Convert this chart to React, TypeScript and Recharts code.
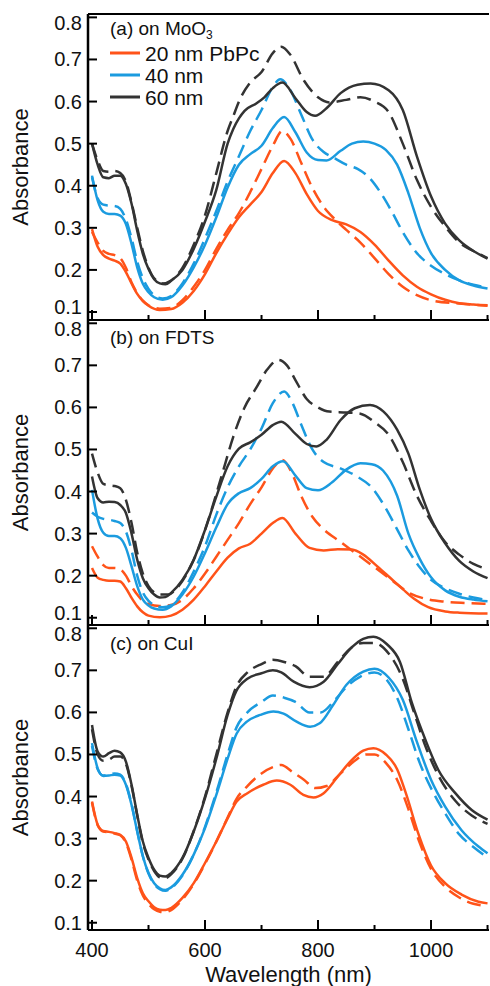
import React from 'react';
import { LineChart, Line, XAxis, YAxis } from 'recharts';

type Pt = [number, number];

// ---------- data (wavelength nm, absorbance) ----------
// (a) on MoO3
const A_20_SOLID: Pt[] = [[400,0.297],[410,0.255],[420,0.235],[430,0.227],[440,0.222],[450,0.215],[460,0.195],[470,0.168],[480,0.143],[490,0.126],[500,0.115],[520,0.105],[540,0.107],[560,0.122],[580,0.15],[600,0.19],[620,0.24],[640,0.285],[660,0.325],[680,0.355],[700,0.385],[720,0.43],[740,0.459],[760,0.43],[780,0.38],[800,0.34],[825,0.318],[850,0.308],[875,0.29],[900,0.26],[925,0.222],[950,0.187],[975,0.16],[1000,0.142],[1025,0.129],[1050,0.121],[1075,0.118],[1100,0.116]];
const A_20_DASH: Pt[] = [[400,0.29],[410,0.265],[420,0.245],[430,0.238],[440,0.235],[450,0.228],[460,0.205],[470,0.17],[480,0.145],[490,0.127],[500,0.116],[520,0.108],[540,0.11],[560,0.128],[580,0.16],[600,0.2],[620,0.25],[640,0.295],[660,0.335],[680,0.385],[700,0.44],[720,0.495],[737,0.53],[752,0.51],[770,0.455],[790,0.395],[810,0.35],[830,0.32],[850,0.295],[875,0.265],[900,0.228],[925,0.19],[950,0.16],[975,0.14],[1000,0.128],[1050,0.12],[1100,0.115]];
const A_40_SOLID: Pt[] = [[400,0.424],[410,0.365],[420,0.338],[430,0.333],[440,0.333],[450,0.329],[460,0.309],[470,0.262],[480,0.206],[490,0.167],[500,0.147],[510,0.135],[525,0.129],[540,0.135],[560,0.163],[580,0.206],[600,0.26],[620,0.325],[640,0.396],[660,0.45],[680,0.475],[700,0.495],[720,0.537],[740,0.563],[760,0.527],[780,0.479],[800,0.461],[815,0.46],[840,0.483],[860,0.5],[880,0.505],[900,0.5],[920,0.485],[940,0.45],[960,0.382],[980,0.3],[1000,0.24],[1025,0.2],[1050,0.175],[1075,0.163],[1100,0.156]];
const A_40_DASH: Pt[] = [[400,0.42],[410,0.37],[420,0.355],[430,0.353],[440,0.352],[450,0.345],[460,0.32],[470,0.275],[480,0.22],[490,0.18],[500,0.155],[510,0.14],[525,0.132],[540,0.138],[560,0.168],[580,0.215],[600,0.275],[620,0.34],[640,0.41],[660,0.47],[680,0.53],[700,0.58],[720,0.635],[733,0.653],[750,0.63],[770,0.57],[790,0.51],[810,0.48],[830,0.465],[850,0.45],[870,0.44],[890,0.42],[910,0.385],[930,0.34],[950,0.29],[975,0.24],[1000,0.21],[1025,0.19],[1050,0.175],[1075,0.165],[1100,0.158]];
const A_60_SOLID: Pt[] = [[400,0.5],[410,0.45],[420,0.42],[430,0.418],[440,0.424],[450,0.424],[460,0.404],[470,0.357],[480,0.293],[490,0.238],[500,0.202],[510,0.178],[520,0.168],[530,0.166],[540,0.174],[560,0.2],[580,0.25],[600,0.315],[620,0.39],[640,0.5],[650,0.535],[660,0.56],[670,0.578],[690,0.595],[705,0.61],[720,0.632],[737,0.645],[760,0.608],[780,0.575],[795,0.566],[815,0.584],[840,0.62],[870,0.64],[893,0.643],[925,0.627],[950,0.58],[975,0.47],[1000,0.375],[1025,0.31],[1050,0.27],[1075,0.245],[1100,0.227]];
const A_60_DASH: Pt[] = [[400,0.5],[410,0.46],[420,0.435],[430,0.433],[440,0.435],[450,0.43],[460,0.41],[470,0.36],[480,0.3],[490,0.245],[500,0.205],[510,0.18],[525,0.168],[540,0.175],[560,0.205],[580,0.26],[600,0.33],[620,0.43],[640,0.53],[650,0.565],[660,0.6],[680,0.645],[700,0.67],[720,0.715],[735,0.73],[750,0.713],[775,0.65],[800,0.61],[820,0.598],[850,0.604],[875,0.61],[900,0.6],[925,0.575],[950,0.5],[975,0.414],[1000,0.35],[1025,0.303],[1050,0.265],[1075,0.245],[1100,0.228]];

// (b) on FDTS
const B_20_SOLID: Pt[] = [[400,0.218],[410,0.195],[420,0.19],[430,0.188],[440,0.188],[450,0.186],[460,0.17],[470,0.147],[480,0.127],[490,0.113],[500,0.105],[520,0.101],[540,0.105],[560,0.119],[580,0.143],[600,0.175],[620,0.21],[640,0.243],[660,0.265],[680,0.276],[700,0.3],[720,0.325],[737,0.337],[760,0.3],[785,0.266],[810,0.26],[835,0.263],[860,0.262],[880,0.25],[905,0.222],[930,0.192],[950,0.168],[970,0.145],[995,0.125],[1025,0.115],[1050,0.112],[1100,0.11]];
const B_20_DASH: Pt[] = [[400,0.27],[410,0.245],[420,0.225],[430,0.218],[440,0.218],[450,0.215],[460,0.2],[470,0.175],[480,0.155],[490,0.14],[500,0.133],[520,0.128],[540,0.13],[560,0.143],[580,0.17],[600,0.205],[620,0.245],[640,0.285],[660,0.325],[680,0.37],[700,0.41],[720,0.455],[737,0.475],[755,0.44],[770,0.39],[790,0.34],[810,0.31],[840,0.28],[870,0.25],[900,0.22],[930,0.19],[960,0.16],[990,0.145],[1025,0.138],[1060,0.135],[1100,0.133]];
const B_40_SOLID: Pt[] = [[400,0.404],[410,0.335],[420,0.302],[430,0.294],[440,0.294],[450,0.289],[460,0.266],[470,0.222],[480,0.175],[490,0.143],[500,0.129],[510,0.122],[525,0.119],[540,0.127],[560,0.155],[580,0.198],[600,0.254],[620,0.315],[640,0.37],[660,0.396],[680,0.408],[700,0.43],[720,0.46],[738,0.472],[760,0.438],[780,0.408],[800,0.403],[825,0.422],[850,0.452],[875,0.467],[895,0.465],[915,0.45],[940,0.39],[960,0.3],[980,0.24],[1000,0.196],[1025,0.165],[1050,0.15],[1075,0.143],[1100,0.139]];
const B_40_DASH: Pt[] = [[400,0.35],[410,0.34],[420,0.335],[430,0.333],[440,0.33],[450,0.325],[460,0.305],[470,0.26],[480,0.2],[490,0.16],[500,0.14],[510,0.13],[525,0.125],[540,0.13],[560,0.16],[580,0.21],[600,0.27],[620,0.345],[640,0.41],[660,0.46],[680,0.5],[700,0.55],[720,0.61],[740,0.638],[755,0.61],[770,0.56],[790,0.5],[810,0.47],[840,0.455],[870,0.435],[895,0.41],[920,0.36],[940,0.31],[960,0.26],[980,0.22],[1000,0.19],[1025,0.17],[1050,0.157],[1075,0.148],[1100,0.142]];
const B_60_SOLID: Pt[] = [[400,0.436],[410,0.384],[420,0.374],[430,0.376],[440,0.375],[450,0.368],[460,0.349],[470,0.3],[480,0.238],[490,0.194],[500,0.17],[510,0.155],[520,0.148],[530,0.149],[540,0.159],[560,0.19],[580,0.238],[600,0.309],[620,0.388],[640,0.46],[660,0.502],[680,0.517],[700,0.535],[720,0.558],[735,0.566],[760,0.537],[780,0.513],[797,0.507],[815,0.523],[840,0.57],[865,0.598],[892,0.606],[916,0.59],[940,0.547],[960,0.49],[980,0.405],[1000,0.335],[1025,0.277],[1050,0.235],[1075,0.21],[1100,0.194]];
const B_60_DASH: Pt[] = [[400,0.49],[410,0.445],[420,0.418],[430,0.415],[440,0.413],[450,0.408],[460,0.38],[470,0.325],[480,0.255],[490,0.205],[500,0.175],[510,0.16],[520,0.155],[535,0.155],[550,0.17],[570,0.21],[590,0.27],[610,0.35],[630,0.44],[650,0.53],[670,0.6],[690,0.645],[710,0.69],[730,0.713],[745,0.7],[760,0.665],[780,0.62],[800,0.6],[820,0.59],[850,0.588],[875,0.585],[900,0.565],[925,0.535],[950,0.47],[975,0.39],[1000,0.33],[1025,0.28],[1050,0.25],[1075,0.228],[1100,0.215]];

// (c) on CuI
const C_20_SOLID: Pt[] = [[400,0.388],[410,0.333],[420,0.318],[430,0.316],[440,0.313],[450,0.309],[460,0.293],[470,0.254],[480,0.206],[490,0.17],[500,0.151],[510,0.137],[520,0.131],[530,0.13],[540,0.135],[560,0.159],[580,0.194],[600,0.242],[620,0.293],[640,0.348],[656,0.388],[675,0.408],[703,0.428],[727,0.438],[751,0.428],[774,0.404],[792,0.398],[810,0.408],[833,0.444],[857,0.483],[880,0.509],[898,0.515],[920,0.5],[940,0.465],[955,0.41],[978,0.31],[1000,0.236],[1025,0.194],[1054,0.167],[1084,0.15],[1100,0.146]];
const C_20_DASH: Pt[] = [[400,0.385],[410,0.332],[420,0.317],[430,0.315],[440,0.312],[450,0.308],[460,0.29],[470,0.25],[480,0.2],[490,0.165],[500,0.145],[510,0.132],[520,0.126],[530,0.125],[540,0.13],[560,0.155],[580,0.192],[600,0.24],[620,0.293],[640,0.35],[656,0.395],[675,0.425],[700,0.455],[720,0.47],[735,0.475],[755,0.458],[775,0.44],[795,0.42],[815,0.425],[840,0.455],[865,0.485],[885,0.5],[900,0.5],[920,0.48],[940,0.44],[960,0.37],[980,0.29],[1000,0.228],[1025,0.185],[1050,0.16],[1075,0.145],[1100,0.14]];
const C_40_SOLID: Pt[] = [[400,0.527],[410,0.467],[420,0.449],[430,0.45],[440,0.452],[450,0.45],[460,0.428],[470,0.38],[480,0.317],[490,0.258],[500,0.218],[510,0.194],[520,0.182],[530,0.178],[540,0.184],[560,0.214],[580,0.262],[600,0.325],[620,0.404],[640,0.49],[656,0.55],[674,0.578],[698,0.594],[721,0.602],[739,0.597],[762,0.578],[786,0.566],[803,0.574],[827,0.618],[850,0.665],[880,0.697],[900,0.704],[925,0.683],[950,0.63],[975,0.53],[1000,0.44],[1025,0.376],[1054,0.32],[1084,0.281],[1100,0.265]];
const C_40_DASH: Pt[] = [[400,0.52],[410,0.465],[420,0.45],[430,0.452],[440,0.455],[450,0.452],[460,0.43],[470,0.382],[480,0.318],[490,0.258],[500,0.217],[510,0.192],[520,0.18],[530,0.176],[540,0.182],[560,0.212],[580,0.262],[600,0.328],[620,0.41],[640,0.5],[656,0.565],[675,0.6],[700,0.625],[720,0.64],[740,0.635],[760,0.625],[785,0.6],[805,0.6],[830,0.63],[850,0.66],[875,0.685],[900,0.695],[920,0.68],[940,0.635],[960,0.56],[980,0.48],[1000,0.42],[1025,0.36],[1050,0.31],[1075,0.28],[1100,0.255]];
const C_60_SOLID: Pt[] = [[400,0.57],[410,0.507],[420,0.495],[430,0.503],[440,0.509],[450,0.505],[460,0.483],[470,0.428],[480,0.357],[490,0.293],[500,0.254],[510,0.226],[520,0.212],[530,0.21],[540,0.218],[560,0.254],[580,0.317],[600,0.396],[620,0.49],[640,0.594],[655,0.65],[675,0.68],[700,0.693],[720,0.7],[735,0.695],[757,0.673],[785,0.66],[810,0.673],[835,0.715],[860,0.755],[880,0.775],[898,0.78],[922,0.762],[945,0.72],[966,0.623],[990,0.535],[1013,0.463],[1043,0.408],[1072,0.368],[1100,0.345]];
const C_60_DASH: Pt[] = [[400,0.56],[410,0.5],[420,0.485],[430,0.488],[440,0.495],[450,0.495],[460,0.478],[470,0.425],[480,0.355],[490,0.29],[500,0.25],[510,0.223],[520,0.208],[530,0.206],[540,0.215],[560,0.252],[580,0.318],[600,0.4],[620,0.5],[640,0.6],[655,0.66],[675,0.695],[700,0.715],[720,0.725],[740,0.72],[760,0.71],[785,0.685],[810,0.685],[835,0.72],[860,0.755],[880,0.765],[900,0.765],[925,0.74],[950,0.68],[970,0.6],[990,0.52],[1013,0.45],[1043,0.39],[1072,0.355],[1100,0.335]];

const X_TICKS = [400, 500, 600, 700, 800, 900, 1000, 1100];
const X_MAJOR = [400, 600, 800, 1000];
const Y_TICKS = [0.1, 0.2, 0.3, 0.4, 0.5, 0.6, 0.7, 0.8];
const LEGEND_LABELS = ['20 nm PbPc', '40 nm', '60 nm'];
const PANEL_LABELS = ['(a) on MoO', '(b) on FDTS', '(c) on CuI'];

// ---------- styles ----------
const W = 490;
const H = 986;
const FONT = '"Liberation Sans", Arial, Helvetica, sans-serif';
const COLORS = ['#FF5319', '#1B9BDF', '#333333'];
const X_DOMAIN: [number, number] = [392.9, 1102.6];
const LINE_W = 2.5;
const DASH = '14 7';
const AXIS_H = 1;

const toPts = (arr: Pt[]) => arr.map(([x, y]) => ({ x, y }));

const PANELS = [
  { id: 'a', top: 14, bottom: 320, domain: [0.081, 0.808] as [number, number], solid: [A_20_SOLID, A_40_SOLID, A_60_SOLID], dash: [A_20_DASH, A_40_DASH, A_60_DASH] },
  { id: 'b', top: 320, bottom: 625, domain: [0.0827, 0.8078] as [number, number], solid: [B_20_SOLID, B_40_SOLID, B_60_SOLID], dash: [B_20_DASH, B_40_DASH, B_60_DASH] },
  { id: 'c', top: 625, bottom: 930, domain: [0.0827, 0.8078] as [number, number], solid: [C_20_SOLID, C_40_SOLID, C_60_SOLID], dash: [C_20_DASH, C_40_DASH, C_60_DASH] },
];

const makeXTick = (showLabel: boolean) => (props: any) => {
  const { x, y, payload } = props;
  const v = payload.value as number;
  const major = X_MAJOR.includes(v);
  return (
    <g>
      <line x1={x} x2={x} y1={y} y2={y - (major ? 10 : 5)} stroke="#000" strokeWidth={2} />
      {showLabel && major ? (
        <text x={x} y={y + 27} textAnchor="middle" fontSize={20} fontFamily={FONT} fill="#111">
          {v}
        </text>
      ) : null}
    </g>
  );
};

const makeYTick = (isLast: boolean) => (props: any) => {
  const { x, y, payload } = props;
  const v = payload.value as number;
  let dy = 0;
  if (Math.abs(v - 0.8) < 1e-6) dy = 6;
  if (Math.abs(v - 0.1) < 1e-6 && !isLast) dy = -5;
  return (
    <g>
      <line x1={x} x2={x + 9} y1={y} y2={y} stroke="#000" strokeWidth={2} />
      <text x={x - 6} y={y + dy} dy="0.35em" textAnchor="end" fontSize={20} fontFamily={FONT} fill="#111">
        {v.toFixed(1)}
      </text>
    </g>
  );
};

const Panel = ({ p, idx }: { p: typeof PANELS[number]; idx: number }) => {
  const isLast = idx === PANELS.length - 1;
  const hasTop = idx === 0;
  return (
    <div style={{ position: 'absolute', left: 0, top: 0 }}>
      <LineChart
        width={W}
        height={H}
        margin={{ top: p.top - (hasTop ? AXIS_H : 0), right: 1, bottom: H - p.bottom - AXIS_H, left: 0 }}
      >
        <XAxis
          dataKey="x"
          type="number"
          domain={X_DOMAIN}
          allowDataOverflow
          ticks={X_TICKS}
          interval={0}
          height={AXIS_H}
          tickSize={0}
          tickMargin={0}
          tickLine={false}
          axisLine={{ stroke: '#000', strokeWidth: 2 }}
          tick={makeXTick(isLast)}
          label={
            isLast
              ? { value: 'Wavelength (nm)', position: 'bottom', offset: 35, fontSize: 22, fontFamily: FONT, fill: '#111' }
              : undefined
          }
        />
        {hasTop ? (
          <XAxis
            xAxisId="top"
            orientation="top"
            type="number"
            domain={X_DOMAIN}
            allowDataOverflow
            ticks={X_TICKS}
            height={AXIS_H}
            tick={false}
            tickLine={false}
            axisLine={{ stroke: '#000', strokeWidth: 2 }}
          />
        ) : null}
        <YAxis
          type="number"
          domain={p.domain}
          allowDataOverflow
          ticks={Y_TICKS}
          interval={0}
          width={88}
          tickSize={0}
          tickMargin={0}
          tickLine={false}
          axisLine={{ stroke: '#000', strokeWidth: 2.5 }}
          tick={makeYTick(isLast)}
          label={{
            value: 'Absorbance',
            angle: -90,
            position: 'insideLeft',
            offset: 20,
            fontSize: 22,
            fontFamily: FONT,
            fill: '#111',
            style: { textAnchor: 'middle' },
          }}
        />
        {p.dash.map((d, i) => (
          <Line
            key={`d${i}`}
            data={toPts(d)}
            dataKey="y"
            type="monotone"
            stroke={COLORS[i]}
            strokeWidth={LINE_W}
            strokeDasharray={DASH}
            dot={false}
            activeDot={false}
            isAnimationActive={false}
          />
        ))}
        {p.solid.map((d, i) => (
          <Line
            key={`s${i}`}
            data={toPts(d)}
            dataKey="y"
            type="monotone"
            stroke={COLORS[i]}
            strokeWidth={LINE_W}
            dot={false}
            activeDot={false}
            isAnimationActive={false}
          />
        ))}
      </LineChart>
    </div>
  );
};

const Overlay = () => (
  <svg width={W} height={H} style={{ position: 'absolute', left: 0, top: 0, pointerEvents: 'none' }}>
    <text x={110} y={35} fontSize={19} fontFamily={FONT} fill="#111">
      {PANEL_LABELS[0]}
      <tspan dy={4} fontSize={12}>3</tspan>
    </text>
    <text x={110} y={344} fontSize={19} fontFamily={FONT} fill="#111">{PANEL_LABELS[1]}</text>
    <text x={110} y={650} fontSize={19} fontFamily={FONT} fill="#111">{PANEL_LABELS[2]}</text>
    {LEGEND_LABELS.map((lab, i) => (
      <g key={lab}>
        <line x1={110} x2={140} y1={53 + i * 22} y2={53 + i * 22} stroke={COLORS[i]} strokeWidth={3} />
        <text x={145} y={53 + i * 22} dy="0.36em" fontSize={21} fontFamily={FONT} fill="#111">
          {lab}
        </text>
      </g>
    ))}
  </svg>
);

export default function App() {
  return (
    <div style={{ position: 'absolute', left: 0, top: 0, width: W, height: H, background: '#fff' }}>
      {PANELS.map((p, i) => (
        <Panel key={p.id} p={p} idx={i} />
      ))}
      <Overlay />
    </div>
  );
}
